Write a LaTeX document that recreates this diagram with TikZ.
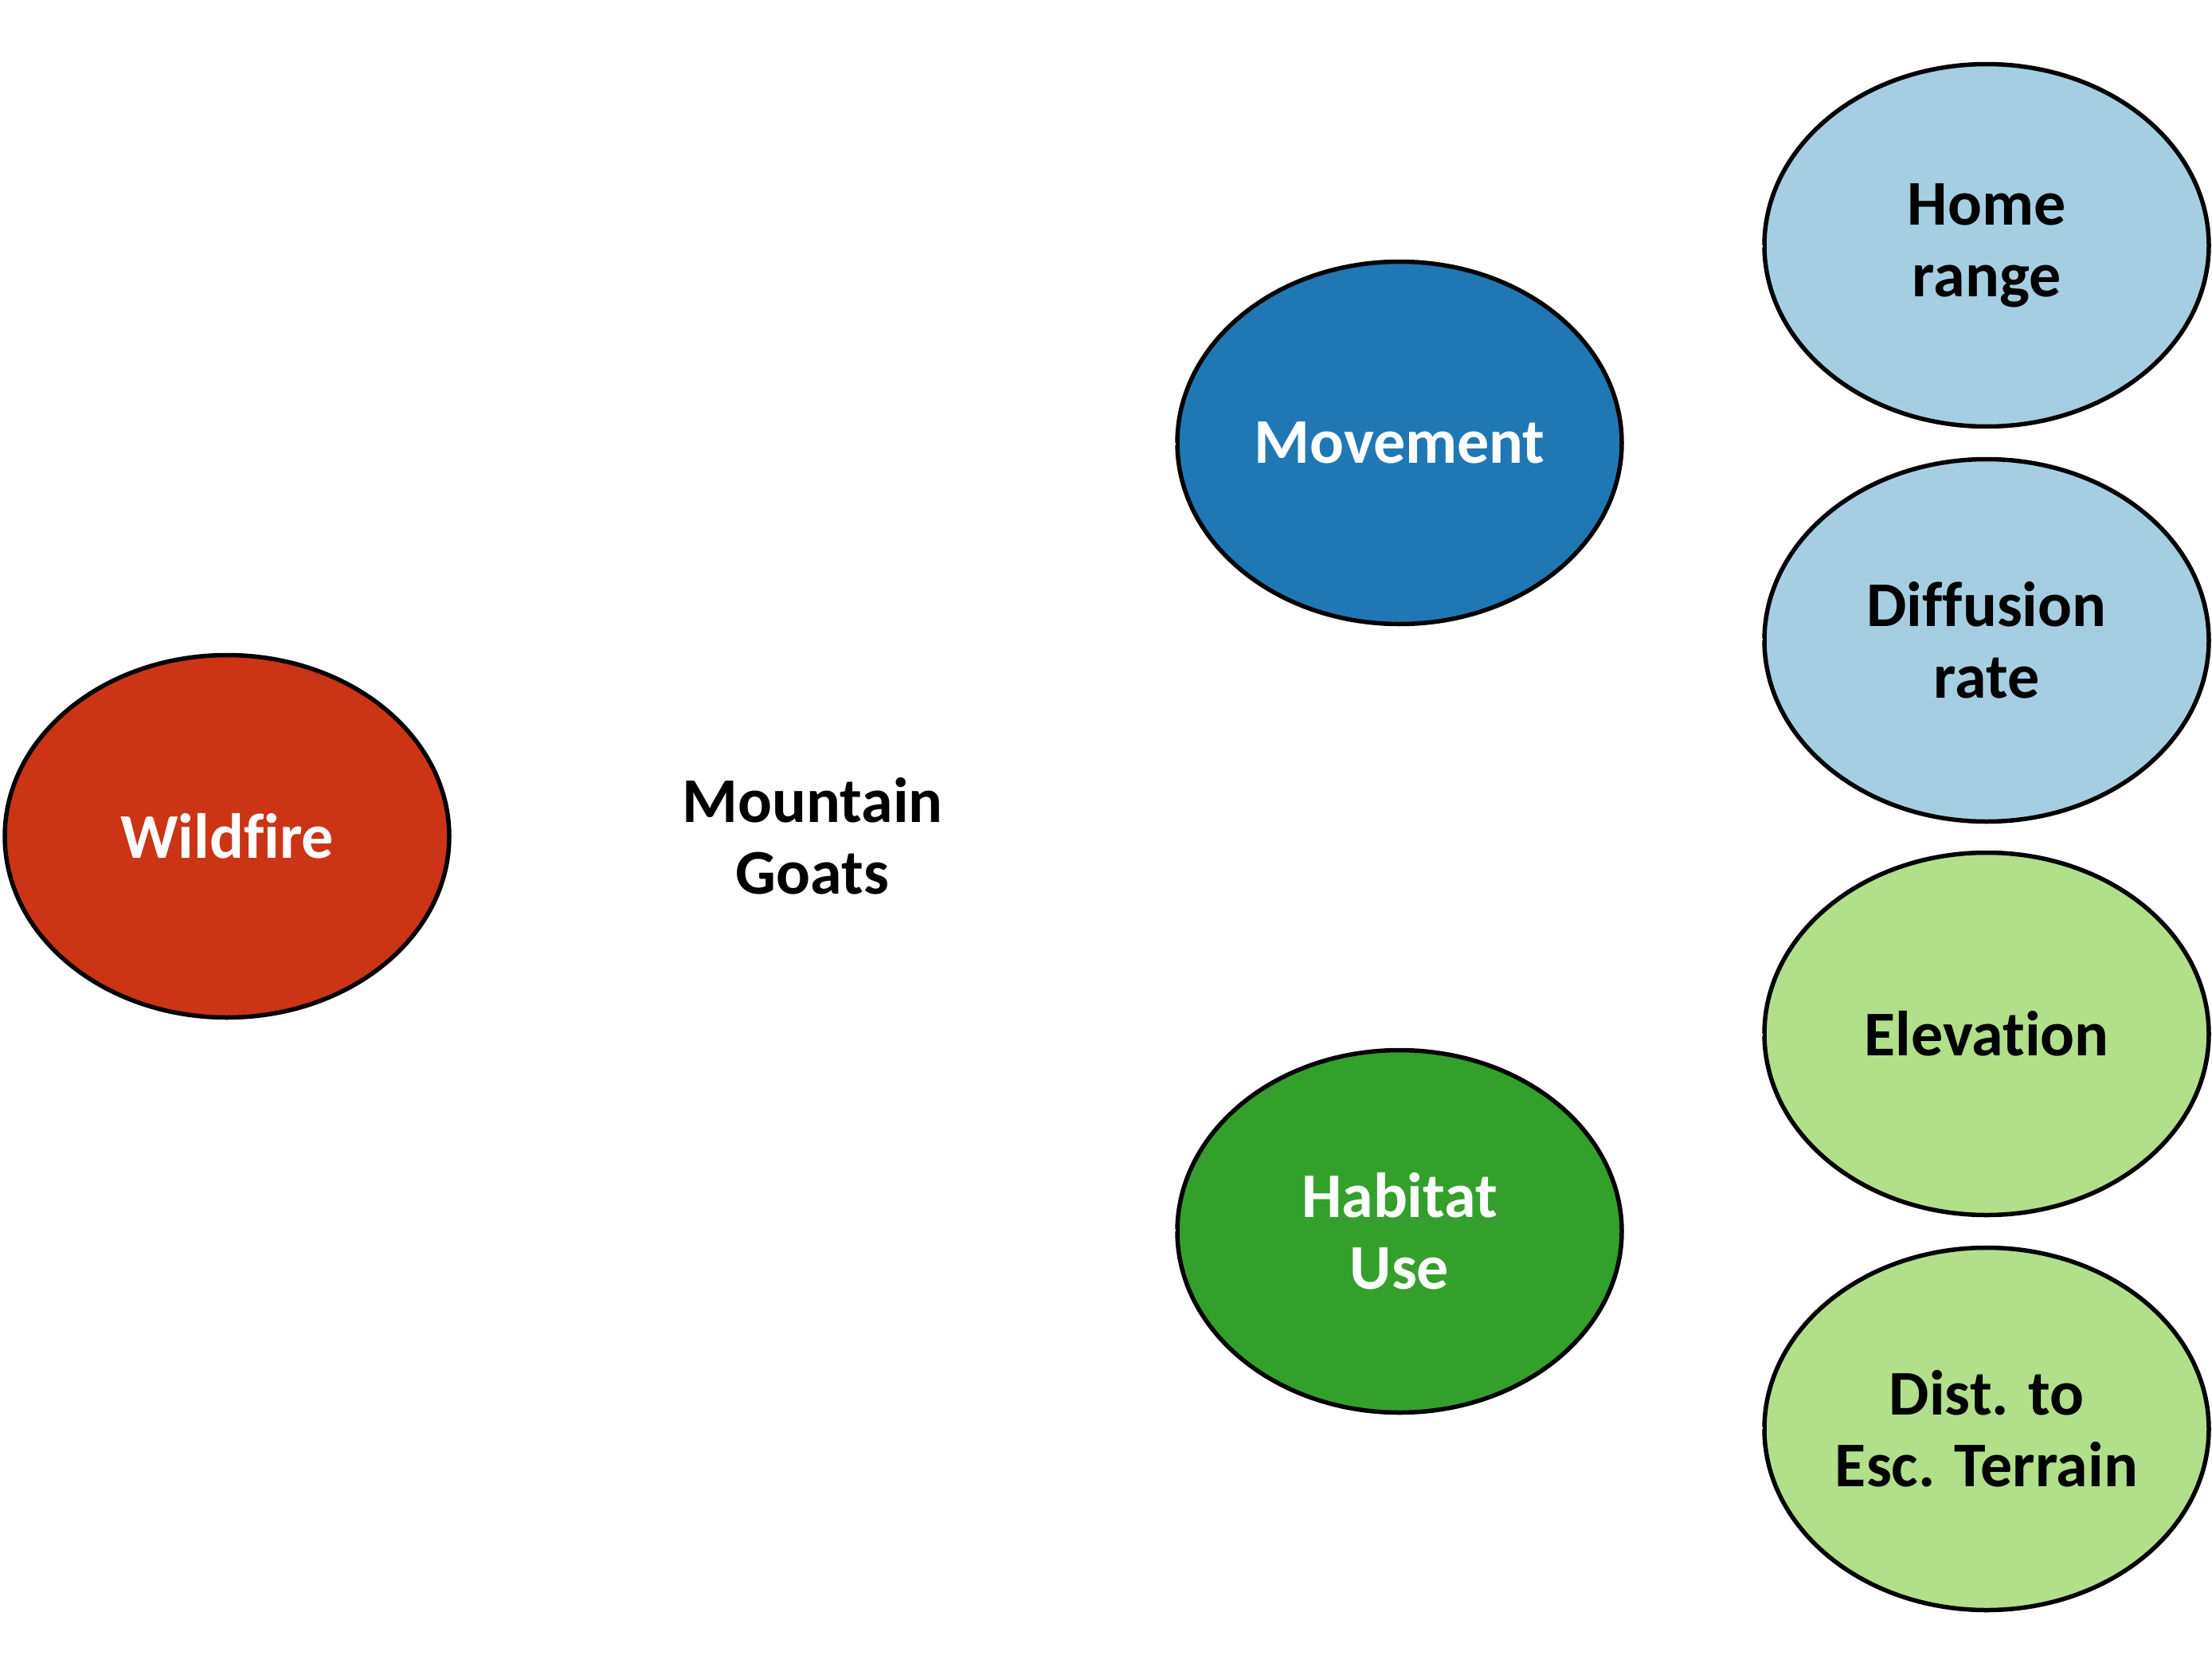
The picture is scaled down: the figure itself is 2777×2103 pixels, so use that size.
\documentclass[tikz,border=0pt]{standalone}
\usepackage{fontspec}
\setmainfont[Ligatures={NoCommon,NoRare,NoContextual}]{Carlito}
\usetikzlibrary{shapes.geometric,arrows.meta}
\definecolor{fire}{HTML}{CB3414}
\definecolor{dblue}{HTML}{1F78B4}
\definecolor{lblue}{HTML}{A6CEE3}
\definecolor{dgreen}{HTML}{33A02C}
\definecolor{lgreen}{HTML}{B2DF8A}
\tikzset{
  oval/.style={ellipse, draw=black, line width=5.5pt, minimum width=558pt, minimum height=455pt, inner sep=0pt, align=center,
    font=\fontsize{80pt}{90pt}\selectfont\bfseries},
  darkoval/.style={oval, text=white},
  lightoval/.style={oval, text=black},
  hidden/.style={draw=white, line width=3pt},
  label/.style={align=center, font=\fontsize{80pt}{90pt}\selectfont\bfseries}
}
\begin{document}
\begin{tikzpicture}[x=1pt,y=-1pt]
\useasboundingbox (0,0) rectangle (2777,2103);
\node[darkoval, fill=fire] (fire) at (285,1050) {Wildfire};
\node[label] (goats) at (1020,1050) {Mountain\\Goats};
\node[darkoval, fill=dblue] (mov) at (1757,556) {Movement};
\node[darkoval, fill=dgreen] (hab) at (1757,1546) {Habitat\\Use};
\node[lightoval, fill=lblue] (home) at (2494,308) {Home\\range};
\node[lightoval, fill=lblue] (diff) at (2494,804) {Diffusion\\rate};
\node[lightoval, fill=lgreen] (elev) at (2494,1298) {Elevation};
\node[lightoval, fill=lgreen] (dist) at (2494,1794) {Dist. to\\Esc. Terrain};
\draw[hidden] (fire.east) -- (goats.west);
\draw[hidden] (goats.east) -- (mov.west);
\draw[hidden] (goats.east) -- (hab.west);
\draw[hidden, {Stealth[length=14pt,width=12pt]}-] (mov.east) -- (home.west);
\draw[hidden, {Stealth[length=14pt,width=12pt]}-] (mov.east) -- (diff.west);
\draw[hidden, {Stealth[length=14pt,width=12pt]}-] (hab.east) -- (elev.west);
\draw[hidden, {Stealth[length=14pt,width=12pt]}-] (hab.east) -- (dist.west);
\end{tikzpicture}
\end{document}
